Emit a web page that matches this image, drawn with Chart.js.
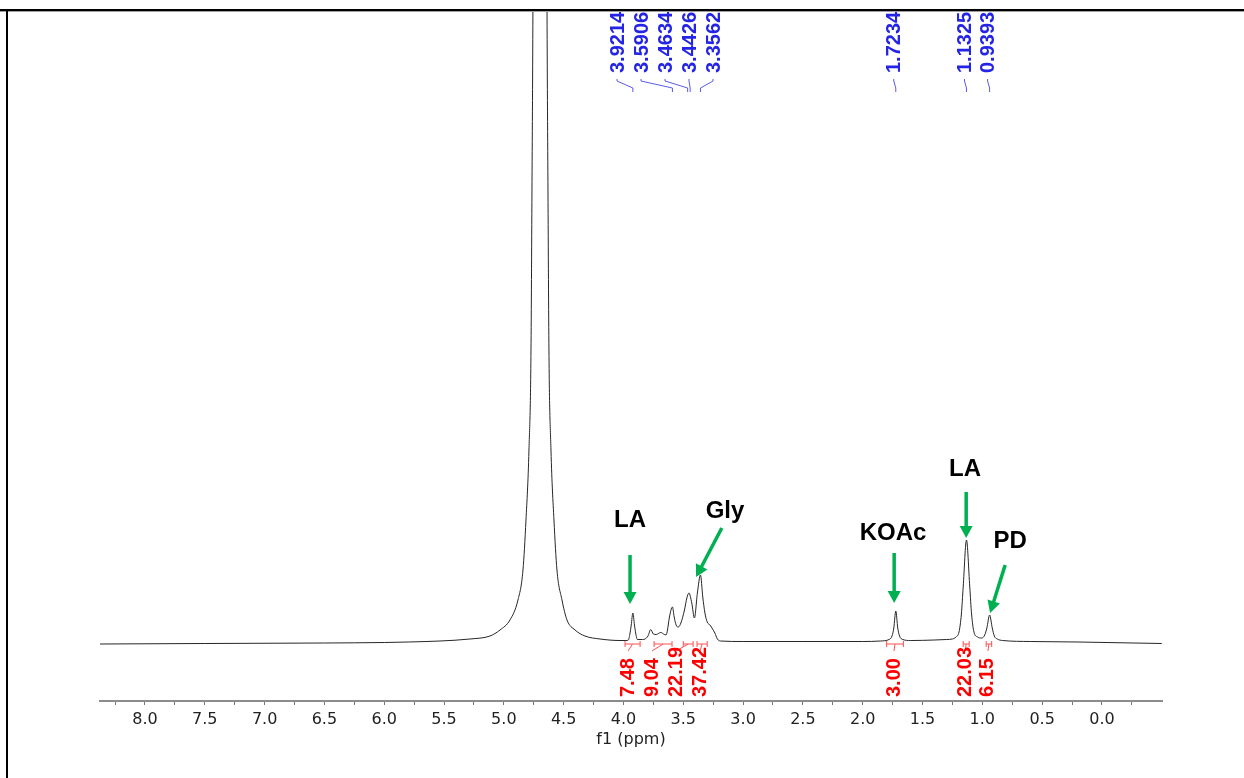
<!DOCTYPE html>
<html lang="en">
<head>
<meta charset="UTF-8">
<title>1H NMR</title>
<script src="https://cdn.jsdelivr.net/npm/chart.js@4.4.1/dist/chart.umd.min.js"></script>
<style>
  html, body { margin: 0; padding: 0; background: #fff; }
</style>
</head>
<body>
<canvas id="nmr" width="1244" height="778"></canvas>
<script>
// trace: chemical shift (ppm) and height above baseline
const shifts = [
  8.38, 7.50, 6.50, 6.00, 5.80, 5.534, 5.283, 5.116, 5.032, 4.949, 4.882, 4.840, 4.815,
  4.790, 4.773, 4.765, 4.757, 4.698, 4.639, 4.631, 4.623, 4.606, 4.581, 4.556, 4.514,
  4.472, 4.405, 4.322, 4.196, 4.029,
  3.98, 3.959, 3.945, 3.935, 3.9214, 3.908, 3.898, 3.884, 3.84, 3.82, 3.795, 3.772, 3.75,
  3.727, 3.70, 3.686, 3.665, 3.644, 3.632, 3.617, 3.5906, 3.576, 3.56, 3.541, 3.52, 3.49,
  3.47, 3.453, 3.429, 3.407, 3.382, 3.3562, 3.337, 3.319, 3.30, 3.277, 3.255, 3.236, 3.215,
  3.19, 3.00, 2.50, 2.00, 1.85, 1.78, 1.755, 1.74, 1.7234, 1.707, 1.692, 1.665, 1.60, 1.40,
  1.30, 1.25, 1.22, 1.195, 1.175, 1.16, 1.1325, 1.105, 1.09, 1.07, 1.04, 1.005, 0.98, 0.962,
  0.9393, 0.917, 0.90, 0.875, 0.83, 0.60, 0.20, -0.50
];
const intensity = [
  -2, -1.5, -1, -0.5, 0, 1, 3, 6, 12, 22, 42, 72, 122,
  192, 292, 450, 632, 3000, 632, 450, 292, 192, 122, 72, 42,
  22, 12, 6, 3, 1.5,
  1.5, 2, 9, 17, 29, 17, 9, 2.5, 2.5, 3, 6, 12.5, 8,
  7.5, 9, 9.5, 8, 7, 12, 24, 35, 25, 17, 15, 19, 32,
  44, 49, 39, 24, 49, 67, 45, 29, 20, 17, 13, 9, 3,
  1, 0.5, 0.5, 0.5, 1, 2.5, 6, 14, 31, 14, 6, 2.5, 1.5, 2,
  2.5, 3, 5, 10, 28, 55, 102, 55, 28, 10, 5, 4, 7, 14,
  27, 14, 6, 3, 1.5, 0.5, 0, -1.5
];

const majorTicks = [8.0, 7.5, 7.0, 6.5, 6.0, 5.5, 5.0, 4.5, 4.0, 3.5, 3.0, 2.5, 2.0, 1.5, 1.0, 0.5, 0.0];

// peak picking (blue) and integrals (red)
const peakShifts = ['3.9214', '3.5906', '3.4634', '3.4426', '3.3562', '1.7234', '1.1325', '0.9393'];
const integrals = ['7.48', '9.04', '22.19', '37.42', '3.00', '22.03', '6.15'];
const intFrom = [3.987, 3.744, 3.500, 3.385, 1.800, 1.160, 0.968];
const intTo   = [3.861, 3.594, 3.418, 3.300, 1.660, 1.110, 0.922];

// assignments
const assignNames = ['LA', 'Gly', 'KOAc', 'LA', 'PD'];

const GREEN = '#00b050';

// annotation placement in data space (ppm, height)
const assignPos = [
  { label: [3.945, 122], from: [3.945, 87], to: [3.945, 38] },
  { label: [3.151, 131], from: [3.178, 114], to: [3.393, 65] },
  { label: [1.746, 109], from: [1.737, 89], to: [1.737, 39] },
  { label: [1.144, 173], from: [1.135, 150], to: [1.135, 104] },
  { label: [0.768, 101], from: [0.809, 77], to: [0.935, 29] }
];

function isMajor(v) {
  return Math.abs(v * 2 - Math.round(v * 2)) < 1e-6;
}

// minor ticks half way between the labelled ones, plus one each side
const tickList = [];
tickList.push(majorTicks[0] + 0.25);
majorTicks.forEach(t => {
  tickList.push(t);
  tickList.push(t - 0.25);
});

const decor = {
  id: 'decor',
  afterDraw(chart) {
    const ctx = chart.ctx;
    const xs = chart.scales.x, ys = chart.scales.y;
    const px = v => xs.getPixelForValue(v);
    const py = v => ys.getPixelForValue(v);
    const base = py(0);
    ctx.save();

    // page frame
    ctx.fillStyle = '#000';
    ctx.fillRect(0, 9, 1244, 2);
    ctx.fillStyle = '#a0a0a0';
    ctx.fillRect(0, 11, 1244, 1);
    ctx.fillStyle = '#000';
    ctx.fillRect(6, 9, 2, 769);

    // peak labels along the top
    ctx.font = 'bold 20px "Liberation Sans", Arial, sans-serif';
    ctx.lineWidth = 1;
    peakShifts.forEach((s, i) => {
      const p = px(parseFloat(s));
      const lx = i < 5 ? 617 + 24 * i : p - 2;
      ctx.save();
      ctx.translate(lx, 73);
      ctx.rotate(-Math.PI / 2);
      ctx.fillStyle = '#2424e6';
      ctx.textAlign = 'left';
      ctx.textBaseline = 'middle';
      ctx.fillText(s, 0, 1);
      ctx.restore();
      ctx.strokeStyle = '#5a5ae8';
      ctx.beginPath();
      ctx.moveTo(lx, 79);
      ctx.lineTo(lx, 81);
      ctx.lineTo(p, 88);
      ctx.lineTo(p, 92);
      ctx.stroke();
    });

    // integrals under the trace
    integrals.forEach((t, i) => {
      const a = px(intFrom[i]), b = px(intTo[i]), m = (a + b) / 2;
      const lx = i < 4 ? 627 + 24 * i : m - 2;
      ctx.strokeStyle = '#ff5050';
      ctx.beginPath();
      ctx.moveTo(a, base + 2);
      ctx.lineTo(b, base + 2);
      ctx.moveTo(a, base - 1);
      ctx.lineTo(a, base + 5);
      ctx.moveTo(b, base - 1);
      ctx.lineTo(b, base + 5);
      ctx.moveTo(m, base + 2);
      ctx.lineTo(lx + 1, base + 9);
      ctx.stroke();
      ctx.save();
      ctx.translate(lx, 697);
      ctx.rotate(-Math.PI / 2);
      ctx.fillStyle = '#ff0000';
      ctx.textAlign = 'left';
      ctx.textBaseline = 'middle';
      ctx.fillText(t, 0, 1);
      ctx.restore();
    });

    // assignment arrows
    assignPos.forEach((a, i) => {
      const x1 = px(a.from[0]), y1 = py(a.from[1]);
      const x2 = px(a.to[0]), y2 = py(a.to[1]);
      const ang = Math.atan2(y2 - y1, x2 - x1);
      const hl = 12, hw = 6.5;
      const bx = x2 - hl * Math.cos(ang), by = y2 - hl * Math.sin(ang);
      ctx.strokeStyle = GREEN;
      ctx.lineWidth = 3.5;
      ctx.beginPath();
      ctx.moveTo(x1, y1);
      ctx.lineTo(bx + Math.cos(ang), by + Math.sin(ang));
      ctx.stroke();
      ctx.fillStyle = GREEN;
      ctx.beginPath();
      ctx.moveTo(x2, y2);
      ctx.lineTo(bx + hw * Math.sin(ang), by - hw * Math.cos(ang));
      ctx.lineTo(bx - hw * Math.sin(ang), by + hw * Math.cos(ang));
      ctx.closePath();
      ctx.fill();

      ctx.fillStyle = '#000';
      ctx.font = 'bold 24px "Liberation Sans", Arial, sans-serif';
      ctx.textAlign = 'center';
      ctx.textBaseline = 'middle';
      ctx.fillText(assignNames[i], px(a.label[0]), py(a.label[1]));
    });

    ctx.restore();
  }
};

const points = shifts.map((s, i) => ({ x: s, y: intensity[i] }));

new Chart(document.getElementById('nmr'), {
  type: 'line',
  data: {
    datasets: [{
      data: points,
      borderColor: '#262626',
      borderWidth: 1,
      pointRadius: 0,
      fill: false,
      cubicInterpolationMode: 'monotone'
    }]
  },
  options: {
    responsive: false,
    animation: false,
    devicePixelRatio: 1,
    layout: { padding: { left: 100, right: 82, top: 10, bottom: 0 } },
    plugins: {
      legend: { display: false },
      tooltip: { enabled: false }
    },
    scales: {
      x: {
        type: 'linear',
        reverse: true,
        min: -0.502,
        max: 8.376,
        afterBuildTicks: scale => {
          scale.ticks = tickList.map(v => ({ value: v }));
        },
        afterFit: scale => {
          scale.height = 77;
        },
        grid: {
          display: true,
          drawOnChartArea: false,
          drawTicks: true,
          tickLength: 4,
          color: '#777'
        },
        border: { display: true, color: '#8c8c8c', width: 2 },
        ticks: {
          autoSkip: false,
          maxRotation: 0,
          minRotation: 0,
          padding: 5,
          color: '#222',
          font: { family: '"DejaVu Sans", Verdana, sans-serif', size: 16 },
          callback: v => isMajor(v) ? v.toFixed(1) : ''
        },
        title: {
          display: true,
          text: 'f1 (ppm)',
          color: '#222',
          font: { family: '"DejaVu Sans", Verdana, sans-serif', size: 16 },
          padding: { top: 0, bottom: 29 }
        }
      },
      y: {
        display: false,
        min: -59,
        max: 632
      }
    }
  },
  plugins: [decor]
});
</script>
</body>
</html>
